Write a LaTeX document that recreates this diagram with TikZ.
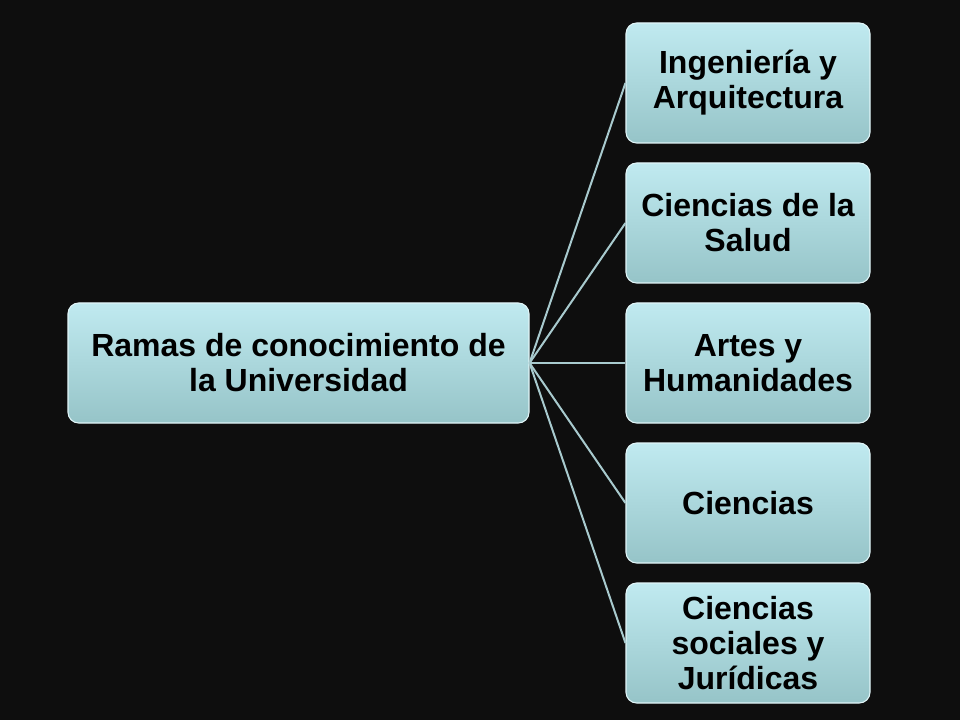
\documentclass[tikz,border=0pt]{standalone}
\usepackage{fontspec}
\setmainfont{Liberation Sans}
\usetikzlibrary{positioning}
\definecolor{bg}{RGB}{14,14,14}
\definecolor{linec}{RGB}{168,202,206}
\definecolor{boxtop}{RGB}{192,234,240}
\definecolor{boxbot}{RGB}{150,196,200}
\definecolor{boxedge}{RGB}{225,245,248}
\tikzset{
  boxstyle/.style={rounded corners=8pt, top color=boxtop, bottom color=boxbot,
    draw=boxedge, line width=0.8pt, align=center, inner sep=0pt,
    font=\fontsize{24}{26.25}\selectfont\bfseries, text=black},
  rootbox/.style={boxstyle, minimum width=345.75pt, minimum height=90pt},
  childbox/.style={boxstyle, minimum width=183pt, minimum height=90pt},
  conn/.style={draw=linec, line width=1.5pt}
}
\begin{document}
\begin{tikzpicture}[x=0.75pt,y=-0.75pt]
\fill[bg] (0,0) rectangle (960,720);
\useasboundingbox (0,0) rectangle (960,720);
\node[rootbox] (root) at (298.5,363) {Ramas de conocimiento de\\la Universidad};
\node[childbox] (c1) at (748,83) {Ingeniería y\\Arquitectura};
\node[childbox] (c2) at (748,223) {Ciencias de la\\Salud};
\node[childbox] (c3) at (748,363) {Artes y\\Humanidades};
\node[childbox] (c4) at (748,503) {Ciencias};
\node[childbox] (c5) at (748,643) {Ciencias\\sociales y\\Jurídicas};
\foreach \c in {c1,c2,c3,c4,c5} {
  \draw[conn] (root.east) -- (\c.west);
}
\end{tikzpicture}
\end{document}
